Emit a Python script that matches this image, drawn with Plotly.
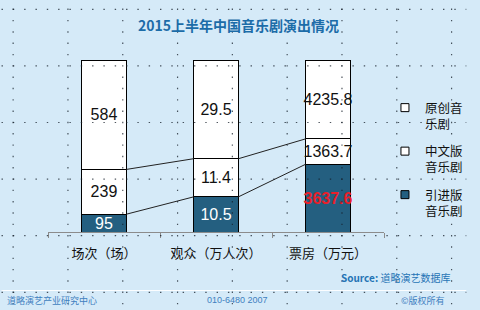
import plotly.graph_objects as go

categories = ["场次（场）", "观众（万人次）", "票房（万元）"]
imported = [95, 10.5, 3637.6]      # 引进版音乐剧
chinese = [239, 11.4, 1363.7]      # 中文版音乐剧
original = [584, 29.5, 4235.8]     # 原创音乐剧
series_names = ["引进版<br>音乐剧", "中文版<br>音乐剧", "原创音<br>乐剧"]

W, H = 480, 310
ML, MR, MT, MB = 48, 85, 60, 78
PW, PH = W - ML - MR, H - MT - MB

def px_x(p):
    return (p - ML) / PW

def px_y(p):
    return (H - MB - p) / PH

FONT = "Arial, 'Liberation Sans', 'Noto Sans CJK SC', sans-serif"
CJK = "'Noto Sans CJK SC', 'Microsoft YaHei', sans-serif"
BLUE = "#245f80"

fig = go.Figure()

def fmt(v):
    return f"{v:g}"

fig.add_trace(go.Bar(
    x=categories, y=imported, name=series_names[0], showlegend=False,
    marker=dict(color=BLUE, line=dict(color="black", width=1)),
    text=[fmt(v) if i < 2 else f"<b>{fmt(v)}</b>" for i, v in enumerate(imported)],
    textposition="inside", insidetextanchor="middle", textangle=0,
    textfont=dict(size=16, color=["white", "white", "#e8202a"], family=FONT),
    hoverinfo="skip",
))
fig.add_trace(go.Bar(
    x=categories, y=chinese, name=series_names[1], showlegend=False,
    marker=dict(color="white", line=dict(color="black", width=1)),
    text=[fmt(v) for v in chinese],
    textposition="inside", insidetextanchor="middle", textangle=0,
    textfont=dict(size=16, color="#111111", family=FONT),
    hoverinfo="skip",
))
fig.add_trace(go.Bar(
    x=categories, y=original, name=series_names[2], showlegend=False,
    marker=dict(color="white", line=dict(color="black", width=1)),
    text=[fmt(v) for v in original],
    textposition="inside", insidetextanchor="middle", textangle=0,
    textfont=dict(size=16, color="#111111", family=FONT),
    hoverinfo="skip",
))

# legend-only entries (small square symbols), top to bottom: 原创, 中文版, 引进版
legend_colors = [BLUE, "white", "white"]
for i in (2, 1, 0):
    fig.add_trace(go.Scatter(
        x=[None], y=[None], mode="markers", name=series_names[i],
        legendgroup=f"g{i}",
        marker=dict(symbol="square", size=8, color=legend_colors[i],
                    line=dict(color="black", width=1)),
    ))

# connector lines between stacked segments
totals = [a + b + c for a, b, c in zip(imported, chinese, original)]
cum1 = [a / t * 100 for a, t in zip(imported, totals)]
cum2 = [(a + b) / t * 100 for a, b, t in zip(imported, chinese, totals)]
shapes = []
half = 0.2
for cum in (cum1, cum2):
    for i in range(len(categories) - 1):
        shapes.append(dict(type="line", xref="x", yref="y",
                           x0=i + half, x1=i + 1 - half, y0=cum[i], y1=cum[i + 1],
                           line=dict(color="#222222", width=1), layer="above"))

# footer separator line
shapes.append(dict(type="line", xref="paper", yref="paper",
                   x0=px_x(0), x1=px_x(W), y0=px_y(290.5), y1=px_y(290.5),
                   line=dict(color="rgba(255,255,255,0.9)", width=1.2), layer="below"))

# dotted background grid
step = 56.6
dash = "1.4px,9.92px"
gx = [12 + step * k for k in range(9)]
gy = [9.3 + step * k for k in range(6)]
for x in gx:
    shapes.append(dict(type="line", xref="paper", yref="paper",
                       x0=px_x(x), x1=px_x(x), y0=px_y(gy[0] - 0.7), y1=px_y(H),
                       line=dict(color="rgba(20,30,40,0.75)", width=1.2, dash=dash),
                       layer="above"))
for y in gy:
    shapes.append(dict(type="line", xref="paper", yref="paper",
                       x0=px_x(0), x1=px_x(W), y0=px_y(y), y1=px_y(y),
                       line=dict(color="rgba(20,30,40,0.75)", width=1.2, dash=dash),
                       layer="above"))

annotations = [
    dict(text="<b>2015上半年中国音乐剧演出情况</b>", xref="paper", yref="paper",
         x=px_x(245), y=px_y(25), xanchor="center", yanchor="middle", showarrow=False,
         font=dict(size=14, color="#1c6ca8", family=CJK)),
    dict(text="<b>Source:</b> 道略演艺数据库", xref="paper", yref="paper",
         x=px_x(465), y=px_y(277), xanchor="right", yanchor="middle", showarrow=False,
         font=dict(size=10, color="#2574b5", family=CJK)),
    dict(text="道略演艺产业研究中心", xref="paper", yref="paper",
         x=px_x(4), y=px_y(300), xanchor="left", yanchor="middle", showarrow=False,
         font=dict(size=9, color="#3f7fbf", family=CJK)),
    dict(text="010-6480 2007", xref="paper", yref="paper",
         x=px_x(244), y=px_y(300), xanchor="center", yanchor="middle", showarrow=False,
         font=dict(size=9, color="#3f7fbf", family=FONT)),
    dict(text="©版权所有", xref="paper", yref="paper",
         x=px_x(460), y=px_y(300), xanchor="right", yanchor="middle", showarrow=False,
         font=dict(size=9, color="#3f7fbf", family=CJK)),
]

fig.update_layout(
    width=W, height=H,
    margin=dict(l=ML, r=MR, t=MT, b=MB, pad=0),
    paper_bgcolor="#d5eaf8", plot_bgcolor="rgba(0,0,0,0)",
    barmode="stack", barnorm="percent", bargap=0.6,
    font=dict(family=CJK, color="#111111"),
    showlegend=True,
    legend=dict(x=px_x(396), y=px_y(93), xanchor="left", yanchor="top",
                bgcolor="rgba(0,0,0,0)", font=dict(size=12.5, family=CJK, color="#111111"),
                traceorder="grouped", valign="top", tracegroupgap=8,
                itemwidth=30),
    xaxis=dict(type="category", tickson="boundaries", ticks="outside", ticklen=5,
               tickcolor="#8c8c8c", showline=True, linecolor="#8c8c8c", linewidth=1,
               showgrid=False, zeroline=False, range=[-0.5, 2.5],
               ticklabelstandoff=9,
               tickfont=dict(size=13, family=CJK, color="#111111"), fixedrange=True),
    yaxis=dict(range=[0, 100], visible=False, showgrid=False, zeroline=False,
               fixedrange=True),
    shapes=shapes, annotations=annotations,
)
fig.update_traces(selector=dict(type="bar"), constraintext="none", cliponaxis=False)

fig.write_html("out.html")
